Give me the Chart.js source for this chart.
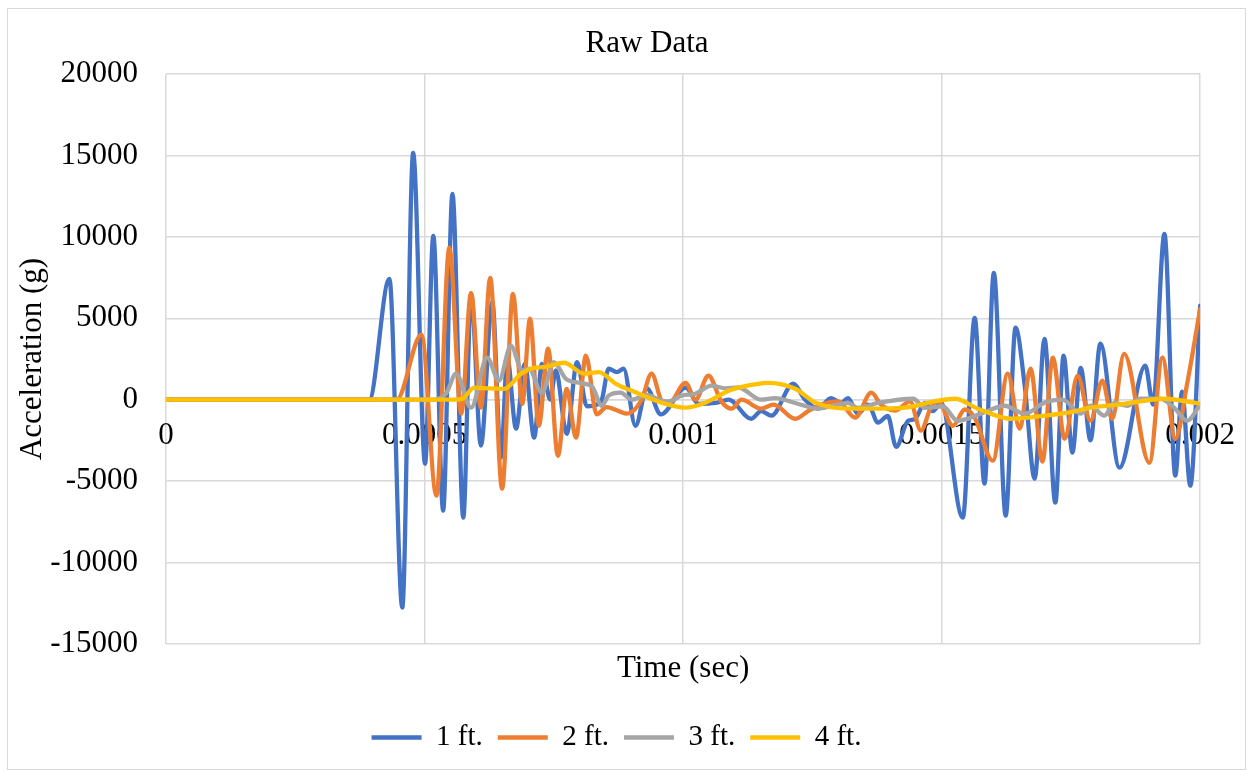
<!DOCTYPE html>
<html>
<head>
<meta charset="utf-8">
<title>Raw Data</title>
<script src="https://cdn.jsdelivr.net/npm/chart.js@4.4.0/dist/chart.umd.min.js"></script>
<style>
    html, body { margin: 0; padding: 0; background: #fff; }
    #frame { position: absolute; left: 7px; top: 8px; width: 1239px; height: 762px; border: 1px solid #d9d9d9; box-sizing: border-box; }
    #rawChart { position: absolute; left: 0; top: 0; }
</style>
</head>
<body>
<div id="frame"></div>
<canvas id="rawChart" width="1253" height="775"></canvas>
<script>
// time in microseconds, acceleration in g
const chartTitle = 'Raw Data';
const seriesNames = ['1 ft.', '2 ft.', '3 ft.', '4 ft.'];
const xTickLabels = ['0', '0.0005', '0.001', '0.0015', '0.002'];

const time1ft = [0, 393, 432, 457, 478, 501, 517, 536, 554, 575, 590, 609, 631, 648, 660, 677, 694, 712, 727, 743, 754, 775, 795, 814, 833, 843, 856, 872, 885, 908, 930, 957, 1005, 1030, 1063, 1088, 1132, 1151, 1171, 1213, 1236, 1261, 1286, 1306, 1319, 1338, 1358, 1377, 1396, 1412, 1435, 1448, 1468, 1483, 1499, 1541, 1564, 1583, 1601, 1624, 1643, 1661, 1680, 1699, 1720, 1736, 1753, 1769, 1788, 1807, 1844, 1894, 1909, 1931, 1952, 1965, 1981, 2000];
const accel1ft = [0, 0, 7420, -12760, 15150, -3930, 10060, -6810, 12640, -7240, 6500, -2820, 6000, -3560, 2580, -1780, 2200, -2330, 2200, 0, 1800, -2100, 2300, -400, -300, 0, 1900, 1700, 1900, -1600, 700, -900, 740, -250, -200, 0, -1170, -700, -980, 980, 0, -550, 100, -200, 100, -860, -300, -1400, -1000, -2900, -1300, -1200, -200, -700, -200, -7240, 5030, -5150, 7790, -7120, 4420, 800, -4850, 3740, -6320, 2700, -3250, 1960, -2500, 3440, -4170, 2090, -300, 10180, -4660, 500, -5280, 5770];

const time2ft = [0, 446, 494, 523, 548, 571, 590, 609, 627, 650, 671, 689, 704, 721, 739, 758, 775, 793, 812, 833, 852, 876, 891, 920, 939, 959, 972, 1005, 1024, 1049, 1074, 1094, 1113, 1151, 1175, 1217, 1242, 1267, 1300, 1333, 1364, 1383, 1410, 1439, 1460, 1479, 1493, 1522, 1545, 1564, 1599, 1628, 1651, 1672, 1695, 1715, 1738, 1763, 1788, 1811, 1830, 1853, 1902, 1927, 1952, 1975, 2000];
const accel2ft = [0, 0, 3990, -5890, 9330, -860, 6560, -490, 7480, -5460, 6500, -250, 4970, -1600, 3130, -3440, 670, -2330, 2700, -900, -450, -700, -860, 0, 1600, -100, -250, 1040, 0, 1470, -100, -550, 0, -550, -300, -1170, -700, -300, -100, -1100, 430, -300, -670, -100, -1900, -500, -100, -1600, -600, -1100, -3740, 1600, -1780, 1900, -3800, 2580, -2400, 1470, -1290, 1170, -1170, 2820, -3870, 2580, -2400, 1000, 5580];

const time3ft = [0, 519, 542, 561, 590, 621, 644, 667, 689, 702, 727, 750, 773, 798, 824, 843, 856, 879, 901, 930, 953, 972, 997, 1024, 1055, 1082, 1107, 1151, 1178, 1217, 1261, 1294, 1319, 1338, 1377, 1445, 1468, 1502, 1531, 1576, 1622, 1661, 1699, 1734, 1769, 1788, 1815, 1834, 1859, 1884, 1923, 1950, 1975, 2000];
const accel3ft = [0, 0, 400, 1600, -490, 2580, 1170, 3310, 1800, 1900, 430, 2300, 1300, 1040, 800, -370, 250, 430, 0, 300, 0, -100, 250, 370, 860, 700, 750, 0, 100, -200, -550, -350, -200, -500, -200, 60, -500, -400, -1290, -860, -370, -860, -180, 0, -860, -370, -980, -200, -370, 60, 60, -500, -1290, -300];

const time4ft = [0, 557, 573, 596, 621, 654, 687, 712, 731, 770, 808, 837, 870, 901, 933, 966, 1005, 1043, 1088, 1107, 1165, 1217, 1256, 1319, 1364, 1429, 1493, 1526, 1570, 1634, 1699, 1744, 1788, 1853, 1931, 2000];
const accel4ft = [0, 0, 50, 740, 700, 670, 1600, 1960, 2000, 2270, 1600, 1700, 980, 550, 120, -250, -490, -180, 550, 740, 1040, 670, -180, -550, -550, -490, -60, 60, -550, -1170, -980, -800, -490, -250, 60, -250];

const serif = "'Liberation Serif', 'Times New Roman', serif";
const gridColor = '#d9d9d9';
const axisFont = { family: serif, size: 31 };

const toPoints = (times, values) => times.map((t, i) => ({ x: t / 1e6, y: values[i] }));

const makeDataset = (idx, times, values, color, order) => ({
    label: seriesNames[idx],
    data: toPoints(times, values),
    borderColor: color,
    backgroundColor: color,
    borderWidth: 4.3,
    pointBorderColor: color,
    pointBackgroundColor: color,
    pointBorderWidth: 4.3,
    pointRadius: 0,
    pointHoverRadius: 0,
    cubicInterpolationMode: 'monotone',
    borderCapStyle: 'round',
    borderJoinStyle: 'round',
    fill: false,
    xAxisID: 'x',
    yAxisID: 'y',
    order: order
});

// Excel puts the title a little left of the plot centre, so draw it ourselves
const titlePlugin = {
    id: 'excelTitle',
    afterDraw(chart) {
        const ctx = chart.ctx;
        ctx.save();
        ctx.font = `31px ${serif}`;
        ctx.fillStyle = '#000';
        ctx.textAlign = 'center';
        ctx.textBaseline = 'middle';
        ctx.fillText(chartTitle, 647, 44);
        ctx.restore();
    }
};

new Chart(document.getElementById('rawChart'), {
    type: 'line',
    data: {
        datasets: [
            makeDataset(0, time1ft, accel1ft, '#4472C4', 4),
            makeDataset(1, time2ft, accel2ft, '#ED7D31', 3),
            makeDataset(2, time3ft, accel3ft, '#A5A5A5', 2),
            makeDataset(3, time4ft, accel4ft, '#FFC000', 1)
        ]
    },
    plugins: [titlePlugin],
    options: {
        responsive: false,
        animation: false,
        devicePixelRatio: 1,
        layout: {
            padding: { left: 30, right: 50, top: 74, bottom: 13 }
        },
        scales: {
            x: {
                type: 'linear',
                position: { y: 0 },
                min: 0,
                max: 0.002,
                ticks: {
                    stepSize: 0.0005,
                    autoSkip: false,
                    maxRotation: 0,
                    callback: (value, index) => xTickLabels[index],
                    font: axisFont,
                    color: '#000',
                    padding: 18
                },
                grid: { color: gridColor, lineWidth: 1.5, drawTicks: false },
                border: { color: gridColor, width: 1.5 }
            },
            xTitle: {
                type: 'linear',
                axis: 'x',
                position: 'bottom',
                ticks: { display: false },
                grid: { display: false },
                border: { display: false },
                title: {
                    display: true,
                    text: 'Time (sec)',
                    font: axisFont,
                    color: '#000',
                    padding: { top: 0, bottom: 21 }
                },
                afterFit: scale => { scale.height = 64; }
            },
            y: {
                min: -15000,
                max: 20000,
                ticks: {
                    stepSize: 5000,
                    callback: value => String(value),
                    font: axisFont,
                    color: '#000',
                    padding: 28
                },
                grid: { color: gridColor, lineWidth: 1.5, drawTicks: false },
                border: { display: false },
                title: {
                    display: true,
                    text: 'Acceleration (g)',
                    font: axisFont,
                    color: '#000',
                    padding: { top: -16, bottom: 0 }
                },
                afterFit: scale => { scale.width = 136; }
            }
        },
        plugins: {
            title: { display: false },
            legend: {
                position: 'bottom',
                labels: {
                    font: { family: serif, size: 29 },
                    color: '#000',
                    usePointStyle: true,
                    pointStyle: 'line',
                    pointStyleWidth: 50,
                    padding: 15,
                    sort: (a, b) => a.datasetIndex - b.datasetIndex
                }
            },
            tooltip: { enabled: false }
        }
    }
});
</script>
</body>
</html>
